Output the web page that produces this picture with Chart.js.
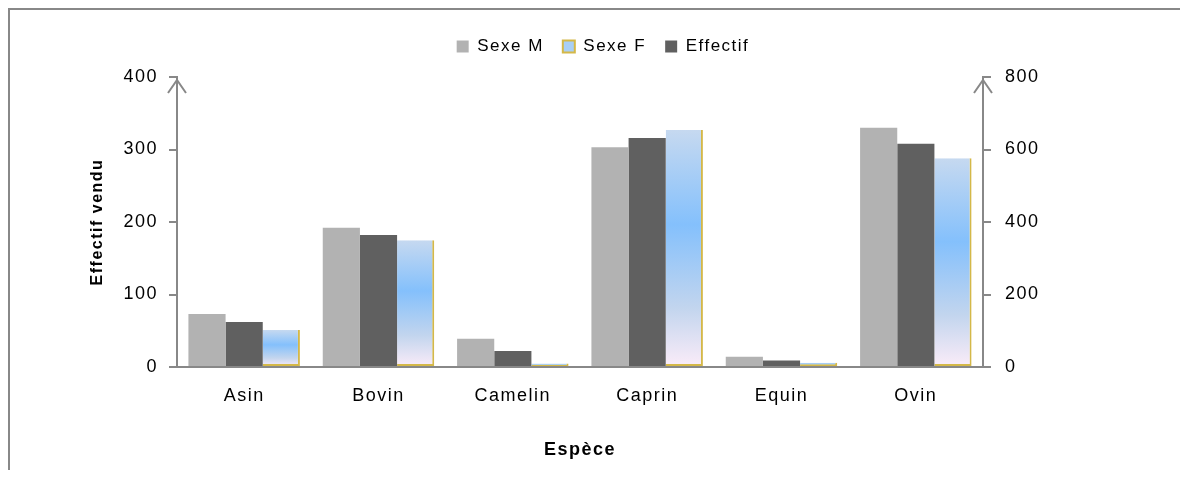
<!DOCTYPE html>
<html>
<head>
<meta charset="utf-8">
<style>
  html, body { margin: 0; padding: 0; background: #fff; }
</style>
</head>
<body>
<canvas id="especeChart" width="1180" height="477"></canvas>

<script src="https://cdn.jsdelivr.net/npm/chart.js"></script>
<script>
// données
var especes = ['Asin', 'Bovin', 'Camelin', 'Caprin', 'Equin', 'Ovin'];
var sexeM = [73, 192, 39, 303, 14, 330];
var sexeF = [51, 175, 5, 327, 6, 288];
var effectif = [124, 364, 44, 632, 18, 616];   // axe de droite

var police = '"Liberation Sans", Arial, sans-serif';
var gris = '#888888';

// ordre de la légende : Sexe M, Sexe F, Effectif
var rangLegende = [0, 2, 1];

function degradeF(context) {
    var chart = context.chart;
    var y = chart.scales && chart.scales.y;
    if (context.type !== 'data' || !y || !chart.chartArea) return '#a8cff6';
    var haut = y.getPixelForValue(context.raw);
    var bas = y.getPixelForValue(0);
    if (bas - haut < 2) haut = bas - 2;
    var g = chart.ctx.createLinearGradient(0, haut, 0, bas);
    g.addColorStop(0, '#c6d9f0');
    g.addColorStop(0.4, '#84c0fc');
    g.addColorStop(0.75, '#c2d5ee');
    g.addColorStop(1, '#fbecf8');
    return g;
}

function espacement(chart) {
    chart.ctx.letterSpacing = '1.5px';
}

var cadreEtFleches = {
    id: 'cadreEtFleches',
    beforeUpdate: espacement,
    beforeDraw: function (chart) {
        espacement(chart);
        var ctx = chart.ctx;
        ctx.save();
        ctx.strokeStyle = gris;
        ctx.lineWidth = 2;
        ctx.beginPath();
        ctx.moveTo(9, 470);
        ctx.lineTo(9, 9);
        ctx.lineTo(1180, 9);
        ctx.stroke();
        ctx.restore();
    },
    afterDraw: function (chart) {
        var ctx = chart.ctx;
        var a = chart.chartArea;
        ctx.save();
        ctx.strokeStyle = gris;
        ctx.lineWidth = 2;
        [a.left, a.right].forEach(function (x) {
            ctx.beginPath();
            ctx.moveTo(x - 9, a.top + 16);
            ctx.lineTo(x, a.top + 3);
            ctx.lineTo(x + 9, a.top + 16);
            ctx.stroke();
        });
        ctx.restore();
    }
};

var legendeHaute = {
    id: 'legendeHaute',
    beforeInit: function (chart) {
        var fitOrig = chart.legend.fit;
        chart.legend.fit = function () {
            fitOrig.bind(chart.legend)();
            this.height += 12;
        };
    }
};

new Chart(document.getElementById('especeChart').getContext('2d'), {
    type: 'bar',
    data: {
        labels: especes,
        datasets: [
            {
                label: 'Sexe M',
                data: sexeM,
                backgroundColor: '#b2b2b2',
                yAxisID: 'y'
            },
            {
                label: 'Effectif',
                data: effectif,
                backgroundColor: '#606060',
                yAxisID: 'y1'
            },
            {
                label: 'Sexe F',
                data: sexeF,
                backgroundColor: degradeF,
                borderColor: '#d4b848',
                borderWidth: { top: 0, left: 0, right: 2, bottom: 2 },
                borderSkipped: false,
                yAxisID: 'y'
            }
        ]
    },
    options: {
        responsive: false,
        animation: false,
        layout: { padding: { left: 78, right: 52, top: 19, bottom: 0 } },
        datasets: {
            bar: { categoryPercentage: 0.83, barPercentage: 1.0 }
        },
        scales: {
            x: {
                grid: { display: false },
                border: { display: true, color: gris, width: 2 },
                ticks: { color: '#000', font: { family: police, size: 18 }, padding: 10 },
                title: {
                    display: true,
                    text: 'Espèce',
                    color: '#000',
                    font: { family: police, size: 18, weight: 'bold' },
                    padding: { top: 0, bottom: 16 }
                },
                afterFit: function (s) { s.height = 110; }
            },
            y: {
                position: 'left',
                min: 0,
                max: 400,
                ticks: { stepSize: 100, color: '#000', font: { family: police, size: 18 }, padding: 11 },
                grid: { drawOnChartArea: false, drawTicks: true, tickLength: 8, color: gris, lineWidth: 2 },
                border: { display: true, color: gris, width: 2 },
                title: {
                    display: true,
                    text: 'Effectif vendu',
                    color: '#000',
                    font: { family: police, size: 16, weight: 'bold' },
                    padding: { top: 10, bottom: 4 }
                },
                afterFit: function (s) { s.width = 99; }
            },
            y1: {
                position: 'right',
                min: 0,
                max: 800,
                ticks: { stepSize: 200, color: '#000', font: { family: police, size: 18 }, padding: 14 },
                grid: { drawOnChartArea: false, drawTicks: true, tickLength: 8, color: gris, lineWidth: 2 },
                border: { display: true, color: gris, width: 2 },
                afterFit: function (s) { s.width = 145; }
            }
        },
        plugins: {
            legend: {
                position: 'top',
                labels: {
                    color: '#000',
                    font: { family: police, size: 17 },
                    boxWidth: 12,
                    boxHeight: 12,
                    padding: 19,
                    sort: function (a, b) { return rangLegende[a.datasetIndex] - rangLegende[b.datasetIndex]; },
                    generateLabels: function (chart) {
                        var items = Chart.defaults.plugins.legend.labels.generateLabels(chart);
                        items.forEach(function (it) {
                            if (it.datasetIndex === 2) {
                                it.fillStyle = '#a8cff6';
                                it.strokeStyle = '#d4b848';
                                it.lineWidth = 2;
                            } else {
                                it.lineWidth = 0;
                            }
                        });
                        return items;
                    }
                }
            },
            tooltip: { enabled: false }
        }
    },
    plugins: [cadreEtFleches, legendeHaute]
});
</script>
</body>
</html>
